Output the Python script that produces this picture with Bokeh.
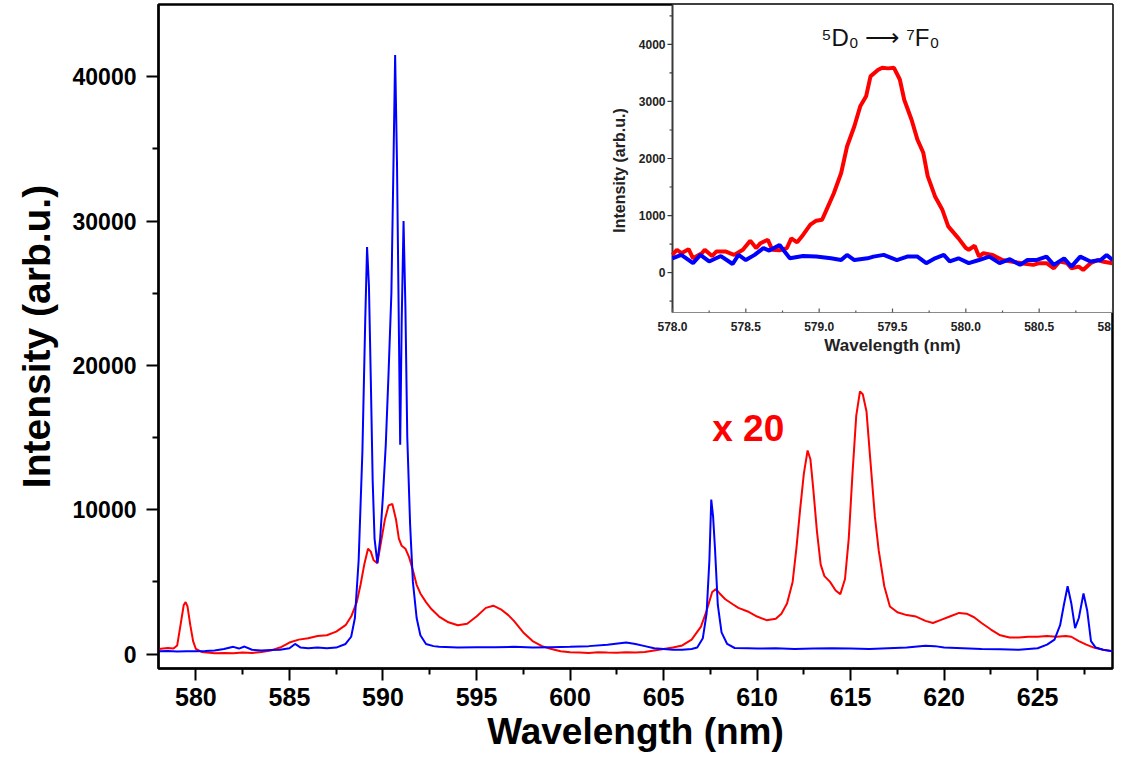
import math
from bokeh.plotting import figure
from bokeh.models import Range1d, FixedTicker, Label
from bokeh.embed import file_html
from bokeh.resources import INLINE
from bokeh.core.properties import value

# ---------------- data: Eu emission spectra ----------------
# red: doped sample (scaled x 20), blue: reference sample
red_wl = [578.0, 578.5, 578.8, 579.0, 579.2, 579.35, 579.45, 579.55, 579.7, 579.85,
          580.0, 580.3, 580.6, 581.0, 581.5, 582.0, 582.5, 583.0, 583.5, 584.0,
          584.5, 585.0, 585.5, 586.0, 586.5, 587.0, 587.5, 588.0, 588.3, 588.6,
          588.8, 589.0, 589.2, 589.35, 589.5, 589.7, 589.9, 590.1, 590.3, 590.5,
          590.7, 590.85, 591.0, 591.2, 591.4, 591.6, 591.8, 592.0, 592.3, 592.6,
          593.0, 593.5, 594.0, 594.5, 595.0, 595.5, 595.9, 596.3, 596.7, 597.0,
          597.5, 598.0, 598.5, 599.0, 599.5, 600.0, 600.5, 601.0, 601.5, 602.0,
          602.5, 603.0, 603.5, 604.0, 604.5, 605.0, 605.5, 606.0, 606.5, 607.0,
          607.3, 607.6, 607.8, 608.0, 608.3, 608.7, 609.0, 609.5, 610.0, 610.5,
          611.0, 611.3, 611.6, 611.9, 612.1, 612.3, 612.5, 612.7, 612.85, 613.0,
          613.2, 613.4, 613.6, 613.9, 614.2, 614.45, 614.7, 614.9, 615.1, 615.3,
          615.5, 615.65, 615.85, 616.05, 616.3, 616.5, 616.8, 617.1, 617.5, 618.0,
          618.5, 619.0, 619.4, 619.8, 620.3, 620.8, 621.2, 621.6, 622.0, 622.5,
          623.0, 623.5, 624.0, 624.5, 625.0, 625.5, 626.0, 626.5, 626.8, 627.2,
          627.6, 628.0, 628.5, 629.0]
red_int = [350, 420, 380, 600, 2200, 3400, 3600, 3300, 2000, 900,
           350, 150, 100, 60, 80, 50, 100, 80, 150, 250,
           450, 800, 1000, 1100, 1250, 1300, 1550, 2000, 2600, 3600,
           4800, 6200, 7300, 7100, 6500, 6300, 7800, 9300, 10300, 10400,
           9300, 8000, 7500, 7300, 6700, 5800, 4800, 4200, 3600, 3100,
           2600, 2200, 2000, 2100, 2600, 3200, 3350, 3100, 2700, 2300,
           1500, 900, 550, 350, 200, 120, 100, 80, 120, 100,
           90, 120, 100, 150, 250, 350, 450, 600, 1000, 1900,
           3000, 4300, 4500, 4200, 3800, 3450, 3200, 2950, 2600, 2350,
           2450, 2800, 3500, 5000, 7300, 10000, 12500, 14100, 13500, 11500,
           8500, 6200, 5400, 5000, 4400, 4150, 5200, 8000, 12500, 16500,
           18200, 18000, 16800, 13500, 9500, 7200, 4700, 3300, 2900, 2700,
           2600, 2300, 2150, 2350, 2600, 2850, 2800, 2550, 2150, 1700,
           1300, 1150, 1150, 1200, 1200, 1250, 1200, 1250, 1200, 900,
           650, 450, 300, 200]

blue_wl = [578.0, 578.5, 579.0, 579.5, 580.0, 580.5, 581.0, 581.5, 582.0, 582.3,
           582.6, 583.0, 583.5, 584.0, 584.5, 585.0, 585.3, 585.6, 586.0, 586.5,
           587.0, 587.5, 588.0, 588.3, 588.5, 588.7, 588.9, 589.05, 589.15, 589.25,
           589.35, 589.45, 589.55, 589.7, 589.85, 590.0, 590.15, 590.3, 590.45, 590.55,
           590.65, 590.75, 590.85, 590.92, 591.0, 591.1, 591.2, 591.3, 591.45, 591.6,
           591.8, 592.0, 592.3, 592.7, 593.0, 594.0, 595.0, 596.0, 597.0, 598.0,
           599.0, 600.0, 601.0, 602.0, 603.0, 603.5, 604.0, 604.5, 605.0, 605.5,
           606.0, 606.5, 606.8, 607.1, 607.3, 607.45, 607.55, 607.65, 607.75, 607.9,
           608.1, 608.4, 608.8, 609.5, 610.0, 611.0, 612.0, 613.0, 614.0, 615.0,
           616.0, 617.0, 618.0, 619.0, 619.5, 620.0, 621.0, 622.0, 623.0, 624.0,
           625.0, 625.5, 625.9, 626.2, 626.4, 626.6, 626.8, 627.0, 627.2, 627.45,
           627.65, 627.85, 628.1, 628.5, 629.0]
blue_int = [200, 220, 180, 200, 190, 210, 250, 350, 500, 380,
            520, 300, 250, 280, 300, 400, 700, 450, 400, 450,
            400, 450, 700, 1200, 2500, 6500, 14000, 23000, 28200, 25500,
            19000, 12000, 8000, 6300, 8000, 11000, 14500, 19500, 25000, 33000,
            41500, 34000, 22500, 14500, 23000, 30000, 24000, 15000, 9000, 5000,
            2500, 1300, 700, 550, 500, 450, 480, 470, 500, 450,
            480, 500, 550, 650, 800, 700, 550, 400, 350, 300,
            300, 350, 450, 1100, 2800, 6500, 10700, 9500, 7300, 3400,
            1500, 700, 420, 400, 380, 400, 350, 380, 400, 380,
            350, 400, 450, 580, 550, 450, 400, 350, 330, 300,
            400, 650, 1000, 2000, 3400, 4700, 3500, 1800, 2500, 4200,
            3000, 900, 450, 300, 200]

# inset: 5D0 -> 7F0 region
in_red_wl = [578.0, 578.03, 578.06, 578.11, 578.14, 578.2, 578.22, 578.27, 578.3, 578.36,
             578.42, 578.48, 578.53, 578.57, 578.6, 578.65, 578.68, 578.73, 578.78, 578.81,
             578.85, 578.89, 578.94, 578.98, 579.02, 579.05, 579.1, 579.15, 579.19, 579.24,
             579.28, 579.32, 579.35, 579.4, 579.43, 579.47, 579.51, 579.55, 579.58, 579.63,
             579.67, 579.71, 579.74, 579.79, 579.84, 579.88, 579.95, 580.0, 580.02, 580.06,
             580.09, 580.12, 580.18, 580.25, 580.32, 580.39, 580.46, 580.5, 580.55, 580.6,
             580.64, 580.69, 580.72, 580.77, 580.8, 580.85, 580.9, 580.94, 581.0]
in_red_int = [310, 400, 340, 410, 250, 340, 400, 290, 370, 370,
              310, 400, 560, 430, 515, 575, 400, 390, 430, 600,
              530, 660, 840, 910, 925, 1100, 1390, 1745, 2210, 2565,
              2915, 3090, 3440, 3550, 3590, 3580, 3590, 3385, 3030, 2680,
              2330, 2100, 1690, 1335, 1100, 810, 600, 430, 400, 470,
              280, 340, 310, 220, 190, 160, 135, 165, 165, 75,
              195, 165, 75, 105, 45, 165, 220, 190, 165]

in_blue_wl = [578.0, 578.06, 578.14, 578.19, 578.25, 578.33, 578.41, 578.45, 578.5, 578.56,
              578.62, 578.66, 578.73, 578.8, 578.89, 578.98, 579.08, 579.15, 579.19, 579.24,
              579.33, 579.37, 579.44, 579.53, 579.6, 579.67, 579.73, 579.79, 579.85, 579.89,
              579.95, 580.02, 580.09, 580.16, 580.23, 580.3, 580.37, 580.42, 580.48, 580.55,
              580.6, 580.67, 580.72, 580.78, 580.85, 580.92, 580.96, 581.0]
in_blue_int = [250, 310, 165, 310, 195, 290, 150, 310, 220, 310,
               430, 385, 485, 250, 290, 280, 250, 220, 310, 220,
               250, 280, 310, 220, 280, 280, 165, 250, 310, 195,
               250, 165, 220, 280, 165, 235, 135, 220, 220, 280,
               135, 250, 105, 280, 195, 220, 310, 220]

x_ticks = [580, 585, 590, 595, 600, 605, 610, 615, 620, 625]
x_minor = [577.5, 582.5, 587.5, 592.5, 597.5, 602.5, 607.5, 612.5, 617.5, 622.5, 627.5]
y_ticks = [0, 10000, 20000, 30000, 40000]
y_minor = [5000, 15000, 25000, 35000]

in_x_ticks = [578.0, 578.5, 579.0, 579.5, 580.0, 580.5, 581.0]
in_x_minor = [578.25, 578.75, 579.25, 579.75, 580.25, 580.75]
in_y_ticks = [0, 1000, 2000, 3000, 4000]
in_y_minor = [-500, 500, 1500, 2500, 3500, 4500]

# ---------------- layout (pixels) ----------------
W, H = 1130, 759
FL, FR, FT, FB = 158, 1112, 4, 668          # main frame edges
IL, IR, IT, IB = 672, 1112, 4, 312          # inset box edges
IX0, IX1 = 578.0, 581.0                     # inset data window
IY0, IY1 = -700.0, 4700.0

FONT = "Liberation Sans"

p = figure(width=W, height=H, output_backend="svg", toolbar_location=None,
           x_range=Range1d(578, 629), y_range=Range1d(-1000, 45000),
           min_border_left=FL, min_border_right=W - FR,
           min_border_top=FT, min_border_bottom=H - FB)
p.background_fill_color = "white"
p.border_fill_color = "white"
p.grid.visible = False
p.outline_line_color = "black"
p.outline_line_width = 2.5

for ax in (p.xaxis[0], p.yaxis[0]):
    ax.axis_line_width = 2
    ax.axis_line_color = "black"
    ax.major_tick_line_width = 2
    ax.minor_tick_line_width = 2
    ax.major_tick_in = 0
    ax.minor_tick_in = 0
    ax.major_tick_out = 12
    ax.minor_tick_out = 6
    ax.major_label_text_font = FONT
    ax.major_label_text_font_style = "bold"
    ax.major_label_text_color = "black"
    ax.axis_label_text_font = FONT
    ax.axis_label_text_font_style = "bold"
    ax.axis_label_text_color = "black"

p.xaxis.ticker = FixedTicker(ticks=x_ticks, minor_ticks=x_minor)
p.yaxis.ticker = FixedTicker(ticks=y_ticks, minor_ticks=y_minor)
p.xaxis.major_label_text_font_size = "25px"
p.yaxis.major_label_text_font_size = "23px"
p.xaxis.major_label_standoff = 7
p.yaxis.major_label_standoff = 10
p.xaxis.axis_label = "Wavelength (nm)"
p.yaxis.axis_label = "Intensity (arb.u.)"
p.xaxis.axis_label_text_font_size = "37px"
p.yaxis.axis_label_text_font_size = "39px"
p.xaxis.axis_label_standoff = 2
p.yaxis.axis_label_standoff = 12

# main spectra
p.line(red_wl, red_int, line_color="#ff0000", line_width=2)
p.line(blue_wl, blue_int, line_color="#0000ff", line_width=2)

p.add_layout(Label(x=607.6, y=15600, text="x 20", text_color="#ff0000",
                   text_font=FONT, text_font_style="bold", text_font_size="37px",
                   text_baseline="alphabetic"))

# ---------------- inset drawn on extra ranges ----------------
sx = (IX1 - IX0) / (IR - IL)   # data units per pixel
sy = (IY1 - IY0) / (IB - IT)
p.extra_x_ranges = {"ix": Range1d(IX0 - (IL - FL) * sx, IX1 + (FR - IR) * sx)}
p.extra_y_ranges = {"iy": Range1d(IY0 - (FB - IB) * sy, IY1 + (IT - FT) * sy)}
kw = dict(x_range_name="ix", y_range_name="iy")

p.quad(left=IX0, right=IX1, bottom=IY0, top=IY1, fill_color="white", line_color=None, **kw)

# inset axis lines
p.segment(x0=[IX0], y0=[IY0], x1=[IX0], y1=[IY1], line_color="#3a3a3a", line_width=2, **kw)
p.segment(x0=[IX0], y0=[IY0], x1=[IX1], y1=[IY0], line_color="#8a8a8a", line_width=1.2, **kw)

# inset ticks
p.segment(x0=[IX0 - 5 * sx] * len(in_y_ticks), y0=in_y_ticks,
          x1=[IX0] * len(in_y_ticks), y1=in_y_ticks, line_color="#3a3a3a", line_width=1.2, **kw)
p.segment(x0=[IX0 - 3 * sx] * len(in_y_minor), y0=in_y_minor,
          x1=[IX0] * len(in_y_minor), y1=in_y_minor, line_color="#3a3a3a", line_width=1.2, **kw)
p.segment(x0=in_x_ticks, y0=[IY0] * len(in_x_ticks),
          x1=in_x_ticks, y1=[IY0 + 4 * sy] * len(in_x_ticks), line_color="#555555", line_width=1.2, **kw)
p.segment(x0=in_x_minor, y0=[IY0] * len(in_x_minor),
          x1=in_x_minor, y1=[IY0 + 2 * sy] * len(in_x_minor), line_color="#555555", line_width=1.2, **kw)

# inset tick labels
p.text(x=[IX0 - 7 * sx] * len(in_y_ticks), y=in_y_ticks, text=[str(v) for v in in_y_ticks],
       text_align="right", text_baseline="middle", text_font=value(FONT),
       text_font_style="bold", text_font_size="12px", text_color="#222222", **kw)
for v in in_x_ticks:
    p.add_layout(Label(x=v, y=IY0 - 9 * sy, text="%.1f" % v, text_align="center",
                       text_baseline="top", text_font=FONT, text_font_style="bold",
                       text_font_size="12px", text_color="#222222", level="overlay", **kw))

# inset axis titles
p.text(x=[IX0 + (892 - IL) * sx], y=[IY1 - (345 - IT) * sy], text=["Wavelength (nm)"],
       text_align="center", text_baseline="middle", text_font=value(FONT),
       text_font_style="bold", text_font_size="17px", text_color="#222222", **kw)
p.text(x=[IX0 - (IL - 619) * sx], y=[IY1 - (170 - IT) * sy], text=["Intensity (arb.u.)"],
       angle=math.pi / 2, text_align="center", text_baseline="middle", text_font=value(FONT),
       text_font_style="bold", text_font_size="16px", text_color="#222222", **kw)

# transition label
p.text(x=[IX0 + (880 - IL) * sx], y=[IY1 - (37 - IT) * sy], text=["\u2075D\u2080 \u27f6 \u2077F\u2080"],
       text_align="center", text_baseline="middle", text_font=value(FONT),
       text_font_size="24px", text_color="#111111", **kw)

# inset spectra
p.line(in_red_wl, in_red_int, line_color="#ff0000", line_width=4, **kw)
p.line(in_blue_wl, in_blue_int, line_color="#0000ff", line_width=4, **kw)

open("out.html", "w").write(file_html(p, INLINE))
